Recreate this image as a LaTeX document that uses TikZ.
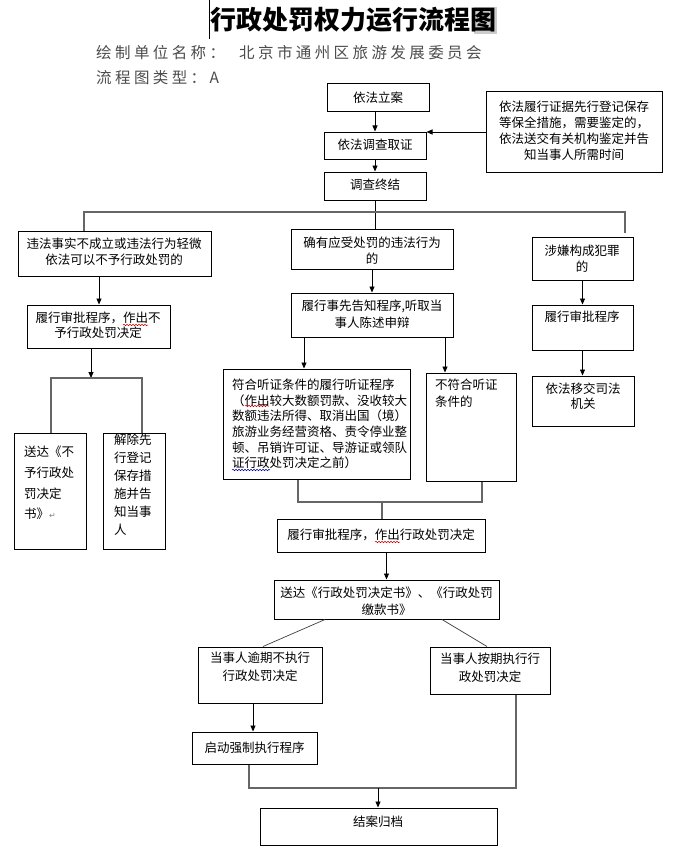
\documentclass[tikz,border=0pt]{standalone}
\usepackage{fontspec}
\setmainfont{Noto Sans CJK SC}
\newfontfamily\hdr[LetterSpace=22]{Noto Sans CJK SC}
\newfontfamily\dejavu{DejaVu Sans}
\usetikzlibrary{arrows.meta,fit,decorations.pathmorphing}
\begin{document}
\begin{tikzpicture}[x=1pt,y=-1pt,
  box/.style={draw=black, line width=1pt, inner sep=0pt},
  txt/.style={inner sep=0pt, align=center, font=\fontsize{12.5}{16}\selectfont},
  ltxt/.style={inner sep=0pt, align=left, anchor=west},
  arr/.style={-{Triangle[length=6pt,width=5pt]}, line width=0.8pt},
  ln/.style={line width=0.7pt, draw=black!75},
  gl/.style={line width=1.2pt, draw=black!60},
  wavr/.style={draw=red!80!black, line width=0.5pt, decorate, decoration={snake, segment length=3pt, amplitude=0.8pt}},
  wavb/.style={draw=blue!70!black, line width=0.5pt, decorate, decoration={snake, segment length=3pt, amplitude=0.8pt}},
]
\useasboundingbox (0,0) rectangle (682,864);
\fill[white] (0,0) rectangle (682,864);

% title and header
\fill[black!20] (474,7) rectangle (497,34);
\draw[line width=0.8pt] (209,0) -- (209,39);
\node[inner sep=0pt, font=\fontsize{26}{30}\selectfont\bfseries] (title) at (353,20) {行政处罚权力运行流程图};
\node[inner sep=0pt, anchor=west, text=black!70, font=\hdr\fontsize{15.5}{18}\selectfont] (hd1) at (96,53) {绘制单位名称：};
\node[inner sep=0pt, anchor=west, text=black!70, font=\hdr\fontsize{15.5}{18}\selectfont] (hd2) at (239,53) {北京市通州区旅游发展委员会};
\node[inner sep=0pt, anchor=west, text=black!70, font=\hdr\fontsize{15.5}{18}\selectfont] (hd3) at (96,78) {流程图类型：A};

% boxes
\node[box, fit={(327,84) (429,112)}] (b1) {};
\node[box, fit={(324,132) (426,159)}] (b2) {};
\node[box, fit={(324,172) (426,200)}] (b3) {};
\node[box, fit={(486,92) (662,172)}] (rn) {};
\node[box, fit={(18,231) (211,276)}] (l1) {};
\node[box, fit={(291,229) (453,269)}] (m1) {};
\node[box, fit={(532,237) (633,280)}] (r1) {};
\node[box, fit={(27,305) (170,348)}] (l2) {};
\node[box, fit={(291,293) (453,337)}] (m2) {};
\node[box, fit={(532,305) (633,350)}] (r2) {};
\node[box, fit={(223,369) (410,479)}] (m3) {};
\node[box, fit={(426,373) (516,481)}] (m4) {};
\node[box, fit={(532,376) (634,426)}] (r3) {};
\node[box, fit={(14,433) (86,549)}] (l3) {};
\node[box, fit={(103,433) (165,549)}] (l4) {};
\node[box, fit={(277,519) (485,552)}] (m5) {};
\node[box, fit={(274,580) (499,619)}] (m6) {};
\node[box, fit={(198,647) (322,703)}] (bb1) {};
\node[box, fit={(430,647) (550,694)}] (bb2) {};
\node[box, fit={(192,732) (317,764)}] (bb3) {};
\node[box, fit={(260,808) (497,845)}] (bb4) {};

% texts
\node[txt] (b1T) at (378,98) {依法立案};
\node[txt] (b2T) at (375,145) {依法调查取证};
\node[txt] (b3T) at (375,185) {调查终结};
\node[txt] (rnT) at (574,131) {依法履行证据先行登记保存\\等保全措施，需要鉴定的，\\依法送交有关机构鉴定并告\\知当事人所需时间};
\node[txt] (l1T) at (114,252) {违法事实不成立或违法行为轻微\\依法可以不予行政处罚的};
\node[txt] (m1T) at (372,250.5) {确有应受处罚的违法行为\\的};
\node[txt] (r1T) at (582,259) {涉嫌构成犯罪\\的};
\node[txt, font=\fontsize{12.5}{15}\selectfont] (l2T) at (98,325.5) {履行审批程序，作出不\\予行政处罚决定};
\node[txt, font=\fontsize{12.5}{17}\selectfont] (m2T) at (372,314.5) {履行事先告知程序,听取当\\事人陈述申辩};
\node[txt] (r2T) at (582,317) {履行审批程序};
\node[ltxt, font=\fontsize{12.5}{15.6}\selectfont] (m3T) at (232,424) {符合听证条件的履行听证程序\\（作出较大数额罚款、没收较大\\数额违法所得、取消出国（境）\\旅游业务经营资格、责令停业整\\顿、吊销许可证、导游证或领队\\证行政处罚决定之前）};
\node[ltxt, font=\fontsize{12.5}{17}\selectfont] (m4T) at (435,393.5) {不符合听证\\条件的};
\node[txt, font=\fontsize{12.5}{14.5}\selectfont] (r3T) at (583,396) {依法移交司法\\机关};
\node[ltxt, font=\fontsize{12.5}{20.7}\selectfont] (l3T) at (24,483) {送达《不\\予行政处\\罚决定\\书》{\dejavu\fontsize{8}{10}\selectfont\color{black!50}↵}};
\node[ltxt, font=\fontsize{12.5}{18}\selectfont] (l4T) at (114,485) {解除先\\行登记\\保存措\\施并告\\知当事\\人};
\node[txt] (m5T) at (381,535) {履行审批程序，作出行政处罚决定};
\node[txt, font=\fontsize{12.5}{17}\selectfont] (m6T) at (386.5,601.5) {送达《行政处罚决定书》、《行政处罚\\缴款书》};
\node[txt, font=\fontsize{12.5}{18}\selectfont] (bb1T) at (260,667) {当事人逾期不执行\\行政处罚决定};
\node[txt, font=\fontsize{12.5}{18}\selectfont] (bb2T) at (490,668) {当事人按期执行行\\政处罚决定};
\node[txt] (bb3T) at (254.5,748) {启动强制执行程序};
\node[txt] (bb4T) at (378,822) {结案归档};

% spell-check underlines
\draw[wavr] (123,325) -- (148,325);
\draw[wavr] (245,406) -- (269,406);
\draw[wavb] (232,470) -- (270,470);
\draw[wavr] (375,542) -- (400,542);

% coordinates
\coordinate (cL) at (84,212);
\coordinate (cR) at (625,212);
\coordinate (cRe) at (625,233);
\coordinate (xL) at (99,0);
\coordinate (lbL) at (51,378);
\coordinate (lbR) at (142,378);
\coordinate (lbM) at (91,378);
\coordinate (xM3) at (304,0);
\coordinate (xM4) at (445,0);
\coordinate (mbL) at (298,502);
\coordinate (mbR) at (482,502);
\coordinate (mbC) at (382,502);
\coordinate (xD1) at (325,0);
\coordinate (xD2) at (442,0);
\coordinate (xE1) at (263,0);
\coordinate (xE2) at (487,0);
\coordinate (xB) at (253,0);
\coordinate (fbL) at (249,788);
\coordinate (fbR) at (516,788);
\coordinate (fbC) at (378,788);

% connectors
\draw[arr] (b1.south -| b2.north) -- (b2.north);
\draw[arr] (rn.west) -- (rn.west -| b2.east);
\draw[arr] (b2.south) -- (b3.north);
\draw[line width=0.8pt] (b3.south) -- (b3.south |- m1.north);
\draw[gl] (l1.north -| cL) -- (cL) -- (cR) -- (cRe);
\draw[arr] (l1.south -| xL) -- (l2.north -| xL);
\draw[arr] (m1.south) -- (m2.north);
\draw[arr] (r1.south) -- (r2.north);
\draw[arr] (r2.south) -- (r3.north -| r2.south);
\draw[arr] (l2.south -| lbM) -- (lbM);
\draw[gl] (l3.north -| lbL) -- (lbL) -- (lbR) -- (l4.north -| lbR);
\draw[arr] (m2.south -| xM3) -- (m3.north -| xM3);
\draw[arr] (m2.south -| xM4) -- (m4.north -| xM4);
\draw[gl] (m3.south -| mbL) -- (mbL) -- (mbR) -- (m4.south -| mbR);
\draw[gl] (mbC) -- (m5.north -| mbC);
\draw[arr] (m5.south -| m6.north) -- (m6.north);
\draw[ln] (m6.south -| xD1) -- (bb1.north -| xE1);
\draw[ln] (m6.south -| xD2) -- (bb2.north -| xE2);
\draw[arr] (bb1.south -| xB) -- (bb3.north -| xB);
\draw[gl] (bb3.south -| fbL) -- (fbL) -- (fbR) -- (bb2.south -| fbR);
\draw[arr] (fbC) -- (bb4.north -| fbC);
\end{tikzpicture}
\end{document}
